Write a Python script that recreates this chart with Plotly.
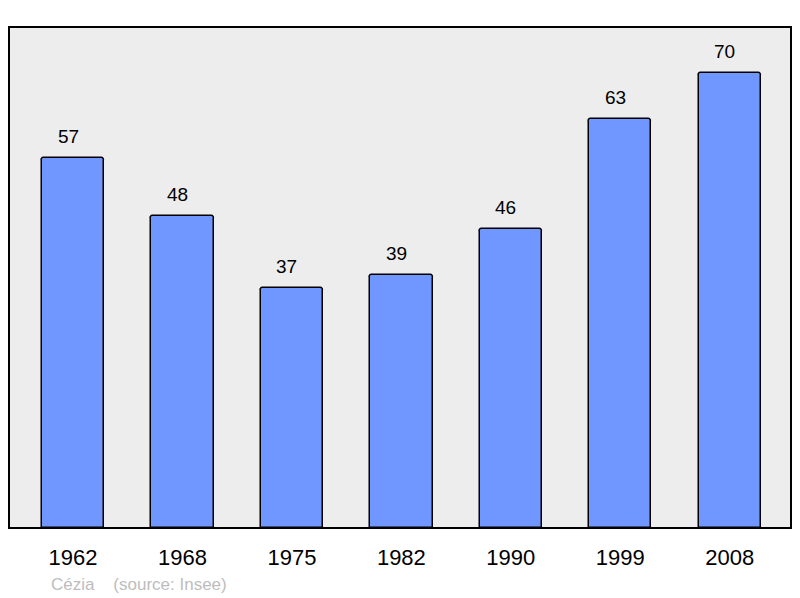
import plotly.graph_objects as go

years = ["1962", "1968", "1975", "1982", "1990", "1999", "2008"]
population = [57, 48, 37, 39, 46, 63, 70]

fig = go.Figure()
fig.add_trace(go.Bar(
    x=list(range(len(years))), y=population,
    width=0.57,
    marker=dict(color="#7097ff", line=dict(color="#000000", width=1.5), cornerradius=3),
    hovertext=years, hoverinfo="text+y",
))

# value labels above each bar (sit a little left of centre in the original)
for i, val in enumerate(population):
    fig.add_annotation(x=i, y=val, text=str(val), showarrow=False,
                       yanchor="bottom", yshift=9, xshift=-5,
                       font=dict(size=19, color="#000000"))

fig.add_annotation(xref="paper", yref="paper", x=0.051, y=-0.112,
                   xanchor="left", yanchor="middle", showarrow=False,
                   text="Cézia    (source: Insee)",
                   font=dict(size=17, color="#bdbdbd"))

# frame round the plot area
fig.add_shape(type="rect", xref="paper", yref="paper", x0=0, y0=0, x1=1, y1=1,
              line=dict(color="#000000", width=2), layer="above")

# page body has an 8px margin, so the figure is a bit smaller than the window
fig.update_layout(
    width=784, height=590,
    margin=dict(l=1, r=1, t=19, b=70),
    paper_bgcolor="#ffffff",
    plot_bgcolor="#ededed",
    font=dict(family="Liberation Sans, Arial, sans-serif"),
    showlegend=False,
    bargap=0,
    xaxis=dict(range=[-0.585, 6.56], showgrid=False, zeroline=False,
               tickmode="array", tickvals=list(range(len(years))), ticktext=years,
               ticks="outside", ticklen=10, tickcolor="rgba(0,0,0,0)",
               tickfont=dict(size=22, color="#000000"), fixedrange=True),
    yaxis=dict(range=[0, 77.1], showgrid=False, zeroline=False,
               showticklabels=False, fixedrange=True),
)

fig.write_html("out.html")
